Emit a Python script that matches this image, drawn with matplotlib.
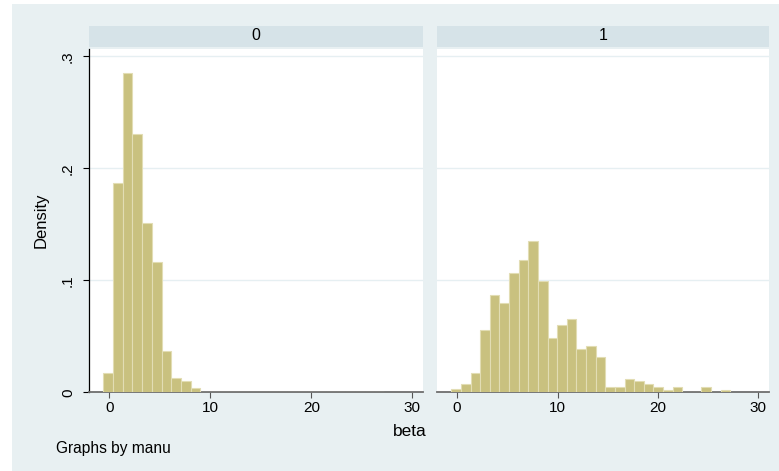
import numpy as np
import matplotlib
matplotlib.use("Agg")
import matplotlib.pyplot as plt
from matplotlib.patches import Rectangle

plt.rcParams['font.family'] = ['Liberation Sans', 'DejaVu Sans']

# ---------------- data ----------------
panel_labels = ['0', '1']
bin_start = -0.57
bin_width = 0.958
density_0 = [0.017, 0.187, 0.285, 0.231, 0.151, 0.116, 0.037, 0.0125, 0.010, 0.0036,
             0, 0, 0, 0, 0, 0, 0, 0, 0, 0, 0, 0, 0, 0, 0, 0, 0, 0, 0]
density_1 = [0.0027, 0.0074, 0.0169, 0.0555, 0.0867, 0.0793, 0.1066, 0.1184, 0.1351, 0.099,
             0.0487, 0.0603, 0.0653, 0.0386, 0.0413, 0.0318, 0.0047, 0.0047, 0.0119, 0.0098,
             0.0077, 0.0047, 0.0024, 0.0047, 0, 0, 0.0047, 0, 0.0024]
x_ticks = [0, 10, 20, 30]
x_tick_labels = ['0', '10', '20', '30']
y_ticks = [0, 0.1, 0.2, 0.3]
y_tick_labels = ['0', '.1', '.2', '.3']

# ---------------- style ----------------
W, H = 779, 471
BG = '#E8F0F2'
STRIP = '#D6E3E8'
BAR = '#C9C17F'
BAR_EDGE = '#E2DDB4'
GRID = '#E6EFF2'

fig = plt.figure(figsize=(W / 100, H / 100), dpi=100, facecolor='white')
fig.patches.append(Rectangle((12 / W, 0), 1 - 12 / W, (H - 4) / H,
                             transform=fig.transFigure, facecolor=BG,
                             edgecolor='none', zorder=-10))

def fx(px):
    return px / W

def fy(py):
    return 1 - py / H

plot_top, plot_bot = 49, 392.3
panels = [(89, 423), (437, 769)]
data = [density_0, density_1]

n_bins = len(density_0)
left_edges = bin_start + bin_width * np.arange(n_bins)

for i, ((x0, x1), dens) in enumerate(zip(panels, data)):
    ax = fig.add_axes([fx(x0), fy(plot_bot), fx(x1 - x0), (plot_bot - plot_top) / H])
    ax.set_facecolor('white')
    ax.bar(left_edges, dens, width=bin_width, align='edge', color=BAR,
           edgecolor=BAR_EDGE, linewidth=0.8, zorder=3)
    ax.set_xlim(-2.0, 31.06)
    ax.set_ylim(0, (plot_bot - plot_top) / 1120.0)
    for yv in y_ticks[1:]:
        ax.axhline(yv, color=GRID, lw=1.0, zorder=1)
    ax.set_xticks(x_ticks)
    ax.set_xticklabels(x_tick_labels, fontsize=11)
    ax.tick_params(axis='x', direction='out', length=4.5, width=0.8,
                   color='#555555', pad=1.5)
    for s in ['top', 'right']:
        ax.spines[s].set_visible(False)
    ax.spines['bottom'].set_color('#6E6E6E')
    ax.spines['bottom'].set_linewidth(1.3)
    if i == 0:
        ax.set_yticks(y_ticks)
        ax.set_yticklabels(y_tick_labels, fontsize=11, rotation=90,
                           va='center', ha='right')
        ax.tick_params(axis='y', direction='out', length=4.5, width=0.8,
                       color='black', pad=5.5)
        ax.spines['left'].set_color('black')
        ax.spines['left'].set_linewidth(0.9)
        ax.set_ylabel('Density', fontsize=12, labelpad=9)
    else:
        ax.set_yticks([])
        ax.spines['left'].set_visible(False)
    # strip header
    fig.patches.append(Rectangle((fx(x0), fy(46.5)), fx(x1 - x0), 21 / H,
                                 transform=fig.transFigure, facecolor=STRIP,
                                 edgecolor='none', zorder=-5))
    fig.text(fx((x0 + x1) / 2), fy(35.5), panel_labels[i], ha='center',
             va='center', fontsize=11.5)

fig.text(fx(427), fy(432), 'beta', ha='right', va='center', fontsize=12.5)
fig.text(fx(56), fy(448), 'Graphs by manu', ha='left', va='center', fontsize=11.2)

fig.savefig('out.png', dpi=100, facecolor='white')
